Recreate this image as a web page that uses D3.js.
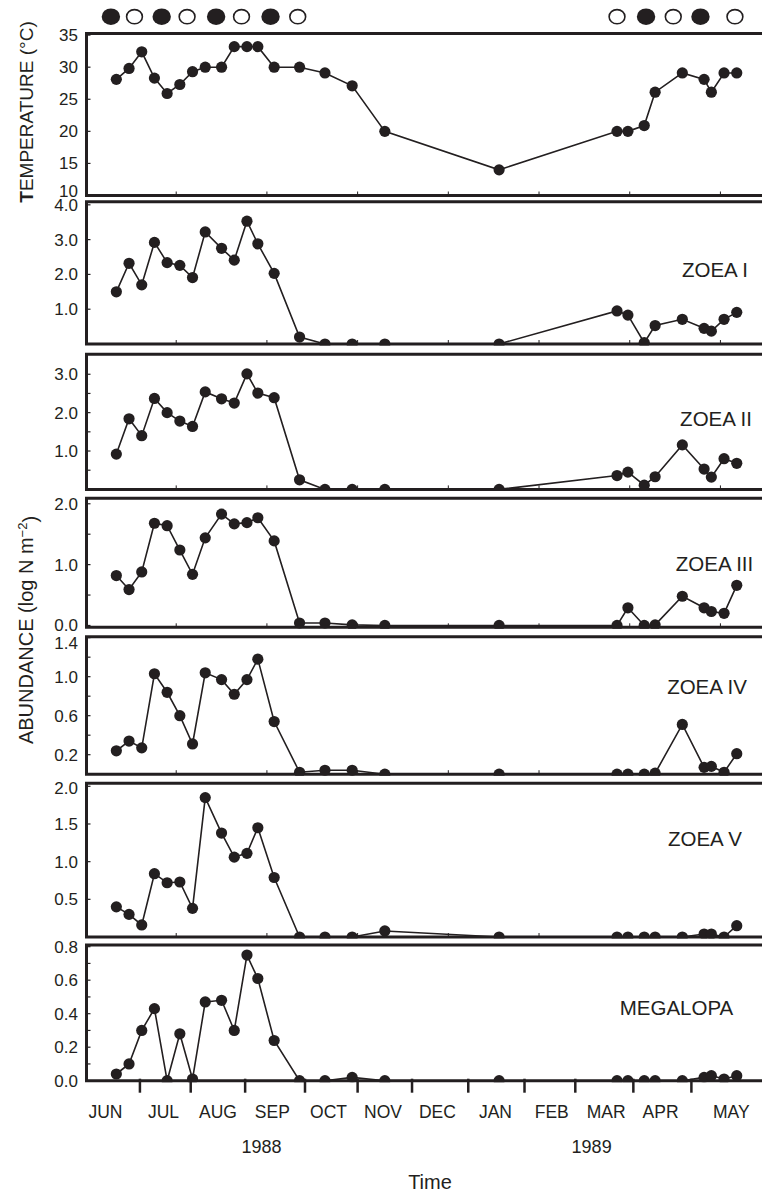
<!DOCTYPE html>
<html>
<head>
<meta charset="utf-8">
<script src="https://cdn.jsdelivr.net/npm/d3@7"></script>
<style>
  body { margin: 0; background: #fff; }
  text { font-family: "Liberation Sans", Arial, Helvetica, sans-serif; fill: #231f20; }
</style>
</head>
<body>
<script>
var w = 762;
var h = 1194;
var ink = "#231f20";

// sampling dates (1988-89)
var sampleDates = [
  "1988-06-18", "1988-06-25", "1988-07-02", "1988-07-09", "1988-07-16", "1988-07-23",
  "1988-07-30", "1988-08-06", "1988-08-15", "1988-08-22", "1988-08-29", "1988-09-04",
  "1988-09-13", "1988-09-27", "1988-10-11", "1988-10-26", "1988-11-13", "1989-01-15",
  "1989-03-21", "1989-03-27", "1989-04-05", "1989-04-11", "1989-04-26", "1989-05-08",
  "1989-05-12", "1989-05-19", "1989-05-26"
];

var temperature = [28.1, 29.8, 32.4, 28.3, 25.9, 27.3, 29.3, 30.0, 30.0, 33.2, 33.2, 33.2, 30.0, 30.0,
  29.1, 27.1, 20.0, 14.0, 20.0, 20.0, 20.9, 26.1, 29.1, 28.1, 26.1, 29.1, 29.1];
var zoeaI = [1.50, 2.32, 1.70, 2.92, 2.34, 2.26, 1.91, 3.22, 2.75, 2.41, 3.53, 2.88, 2.03, 0.20,
  0.0, 0.0, 0.0, 0.0, 0.95, 0.83, 0.04, 0.53, 0.71, 0.45, 0.37, 0.71, 0.91];
var zoeaII = [0.92, 1.84, 1.40, 2.37, 2.00, 1.78, 1.64, 2.54, 2.36, 2.25, 3.01, 2.51, 2.39, 0.25,
  0.0, 0.0, 0.0, 0.0, 0.36, 0.45, 0.11, 0.33, 1.16, 0.53, 0.32, 0.80, 0.68];
var zoeaIII = [0.82, 0.59, 0.88, 1.68, 1.64, 1.24, 0.84, 1.44, 1.83, 1.67, 1.69, 1.77, 1.39, 0.04,
  0.04, 0.01, 0.0, 0.0, 0.0, 0.29, 0.0, 0.01, 0.48, 0.29, 0.23, 0.20, 0.66];
var zoeaIV = [0.24, 0.34, 0.27, 1.03, 0.84, 0.60, 0.31, 1.04, 0.97, 0.82, 0.97, 1.18, 0.54, 0.02,
  0.04, 0.04, 0.0, 0.0, 0.0, 0.0, 0.0, 0.01, 0.51, 0.07, 0.08, 0.02, 0.21];
var zoeaV = [0.40, 0.30, 0.16, 0.84, 0.72, 0.73, 0.38, 1.85, 1.38, 1.06, 1.11, 1.45, 0.79, 0.0,
  0.0, 0.0, 0.08, 0.0, 0.0, 0.0, 0.0, 0.0, 0.0, 0.04, 0.04, 0.0, 0.15];
var megalopa = [0.04, 0.10, 0.30, 0.43, 0.0, 0.28, 0.01, 0.47, 0.48, 0.30, 0.75, 0.61, 0.24, 0.0,
  0.0, 0.02, 0.0, 0.0, 0.0, 0.0, 0.0, 0.0, 0.0, 0.02, 0.03, 0.01, 0.03];

// lunar phases drawn above the top panel
var newMoons = ["1988-06-15", "1988-07-13", "1988-08-12", "1988-09-11", "1989-04-06", "1989-05-06"];
var fullMoons = ["1988-06-28", "1988-07-27", "1988-08-26", "1988-09-26", "1989-03-21", "1989-04-21", "1989-05-25"];

// month axis
var monthNames = ["JUN", "JUL", "AUG", "SEP", "OCT", "NOV", "DEC", "JAN", "FEB", "MAR", "APR", "MAY"];
var monthLabelDates = ["1988-06-12", "1988-07-14", "1988-08-13", "1988-09-12", "1988-10-13", "1988-11-12",
  "1988-12-12", "1989-01-13", "1989-02-13", "1989-03-15", "1989-04-14", "1989-05-23"];
var monthTickDates = ["1988-07-01", "1988-07-29", "1988-08-28", "1988-09-30", "1988-10-29", "1988-11-28",
  "1988-12-29", "1989-01-29", "1989-02-26", "1989-03-30", "1989-05-01"];
var yearNames = ["1988", "1989"];
var yearDates = ["1988-09-06", "1989-03-07"];

var tempTicks = [10, 15, 20, 25, 30, 35];
var zoeaITicks = [1.0, 2.0, 3.0, 4.0];
var zoeaIITicks = [1.0, 2.0, 3.0];
var zoeaIIITicks = [0.0, 1.0, 2.0];
var zoeaIVTicks = [0.2, 0.6, 1.0, 1.4];
var zoeaVTicks = [0.5, 1.0, 1.5, 2.0];
var megalopaTicks = [0.0, 0.2, 0.4, 0.6, 0.8];

var parse = d3.timeParse("%Y-%m-%d");
var dates = sampleDates.map(parse);
var start = new Date(1988, 5, 1);

var x = d3.scaleTime()
  .domain([start, new Date(1989, 4, 1)])
  .range([85.5, 691.4]);

var left = 86.5;
var right = 775;

// padT / padB keep the end tick labels inside the frame like the original
var panels = [
  { values: temperature, domain: [10, 35.25], top: 33.5, bottom: 195.5, ticks: tempTicks, minor: [], fmt: d3.format("d"), padT: 1.5, padB: 4.5, label: null },
  { values: zoeaI, domain: [0, 4.09], top: 201.7, bottom: 344, ticks: zoeaITicks, minor: [], fmt: d3.format(".1f"), padT: 3.3, padB: 3, label: "ZOEA I", lx: 715, ly: 270 },
  { values: zoeaII, domain: [0, 3.52], top: 354.3, bottom: 489.4, ticks: zoeaIITicks, minor: [0.5, 1.5, 2.5], fmt: d3.format(".1f"), padT: 3, padB: 3, label: "ZOEA II", lx: 716, ly: 418.5 },
  { values: zoeaIII, domain: [-0.03, 2.09], top: 498.3, bottom: 627.3, ticks: zoeaIIITicks, minor: [0.5, 1.5], fmt: d3.format(".1f"), padT: 5, padB: 2.5, label: "ZOEA III", lx: 714.5, ly: 564 },
  { values: zoeaIV, domain: [0, 1.41], top: 636.7, bottom: 774.2, ticks: zoeaIVTicks, minor: [0.4, 0.8, 1.2], fmt: d3.format(".1f"), padT: 6, padB: 3, label: "ZOEA IV", lx: 707, ly: 686.7 },
  { values: zoeaV, domain: [0, 2.04], top: 783.3, bottom: 937, ticks: zoeaVTicks, minor: [], fmt: d3.format(".1f"), padT: 5, padB: 3, label: "ZOEA V", lx: 705, ly: 839 },
  { values: megalopa, domain: [0, 0.81], top: 945, bottom: 1080.7, ticks: megalopaTicks, minor: [0.1, 0.3, 0.5, 0.7], fmt: d3.format(".1f"), padT: 1.7, padB: 0, label: "MEGALOPA", lx: 676.5, ly: 1008, last: true }
];

var svg = d3.select("body")
  .append("svg")
  .attr("width", w)
  .attr("height", h);

var defs = svg.append("defs");

panels.forEach(function(p, i) {
  var y = d3.scaleLinear().domain(p.domain).range([p.bottom, p.top]);
  var g = svg.append("g");

  defs.append("clipPath")
    .attr("id", "clip" + i)
    .append("rect")
    .attr("x", 0)
    .attr("y", p.top)
    .attr("width", w)
    .attr("height", p.bottom - p.top + 1.5);

  // 50-day ticks along the bottom of the upper panels
  if (!p.last) {
    var dayTicks = d3.range(50, 400, 50).map(function(d) { return d3.timeDay.offset(start, d); });
    g.selectAll(".dt")
      .data(dayTicks)
      .enter()
      .append("line")
      .attr("x1", function(d) { return x(d); })
      .attr("x2", function(d) { return x(d); })
      .attr("y1", p.bottom)
      .attr("y2", p.bottom - 4)
      .attr("stroke", ink)
      .attr("stroke-width", 1);
  }

  // inner y ticks
  g.selectAll(".yt")
    .data(p.ticks.concat(p.minor))
    .enter()
    .append("line")
    .attr("x1", left)
    .attr("x2", left + 4)
    .attr("y1", function(d) { return y(d); })
    .attr("y2", function(d) { return y(d); })
    .attr("stroke", ink)
    .attr("stroke-width", 1.2);

  g.selectAll(".yl")
    .data(p.ticks)
    .enter()
    .append("text")
    .attr("x", 78)
    .attr("y", function(d) { return Math.max(p.top + p.padT, Math.min(p.bottom - p.padB, y(d))); })
    .attr("dy", "0.35em")
    .attr("text-anchor", "end")
    .style("font-size", "17px")
    .text(function(d) { return p.fmt(d); });

  // frame
  g.append("path")
    .attr("d", "M" + right + "," + p.top + "H" + left + "V" + p.bottom + "H" + right)
    .attr("fill", "none")
    .attr("stroke", ink)
    .attr("stroke-width", 3);

  var plot = g.append("g").attr("clip-path", "url(#clip" + i + ")");

  var line = d3.line()
    .x(function(d, j) { return x(dates[j]); })
    .y(function(d) { return y(d); });

  plot.append("path")
    .datum(p.values)
    .attr("d", line)
    .attr("fill", "none")
    .attr("stroke", ink)
    .attr("stroke-width", 1.6);

  plot.selectAll("circle")
    .data(p.values)
    .enter()
    .append("circle")
    .attr("cx", function(d, j) { return x(dates[j]); })
    .attr("cy", function(d) { return y(d); })
    .attr("r", 5.6)
    .attr("fill", ink);

  if (p.label) {
    g.append("text")
      .attr("x", p.lx)
      .attr("y", p.ly)
      .attr("dy", "0.36em")
      .attr("text-anchor", "middle")
      .style("font-size", "20.5px")
      .text(p.label);
  }

  if (p.last) {
    g.selectAll(".mt")
      .data(monthTickDates.map(parse))
      .enter()
      .append("line")
      .attr("x1", function(d) { return x(d); })
      .attr("x2", function(d) { return x(d); })
      .attr("y1", p.bottom - 2)
      .attr("y2", p.bottom + 12)
      .attr("stroke", ink)
      .attr("stroke-width", 2.5);

    g.selectAll(".ml")
      .data(monthNames)
      .enter()
      .append("text")
      .attr("x", function(d, j) { return x(parse(monthLabelDates[j])); })
      .attr("y", 1118)
      .attr("text-anchor", "middle")
      .style("font-size", "17.5px")
      .text(function(d) { return d; });

    g.selectAll(".yr")
      .data(yearNames)
      .enter()
      .append("text")
      .attr("x", function(d, j) { return x(parse(yearDates[j])); })
      .attr("y", 1153)
      .attr("text-anchor", "middle")
      .style("font-size", "18px")
      .text(function(d) { return d; });
  }
});

// moon phases
svg.selectAll(".newmoon")
  .data(newMoons.map(parse))
  .enter()
  .append("ellipse")
  .attr("cx", function(d) { return x(d); })
  .attr("cy", 16.7)
  .attr("rx", 9.2)
  .attr("ry", 8.3)
  .attr("fill", ink);

svg.selectAll(".fullmoon")
  .data(fullMoons.map(parse))
  .enter()
  .append("ellipse")
  .attr("cx", function(d) { return x(d); })
  .attr("cy", 16.7)
  .attr("rx", 7.9)
  .attr("ry", 7.1)
  .attr("fill", "#fff")
  .attr("stroke", ink)
  .attr("stroke-width", 1.6);

// axis titles
var tt = svg.append("text")
  .attr("transform", "translate(33,112) rotate(-90)")
  .attr("text-anchor", "middle")
  .style("font-size", "19px");
tt.append("tspan").style("font-weight", "bold").text("T");
tt.append("tspan").text("EMPERATURE (°C)");

var at = svg.append("text")
  .attr("transform", "translate(33,630) rotate(-90)")
  .attr("text-anchor", "middle")
  .style("font-size", "20px");
at.append("tspan").text("ABUNDANCE (log N m");
at.append("tspan").attr("dy", "-0.5em").style("font-size", "13px").text("−2");
at.append("tspan").attr("dy", "0.5em").text(")");

svg.append("text")
  .attr("x", 430)
  .attr("y", 1189)
  .attr("text-anchor", "middle")
  .style("font-size", "20px")
  .text("Time");
</script>
</body>
</html>
